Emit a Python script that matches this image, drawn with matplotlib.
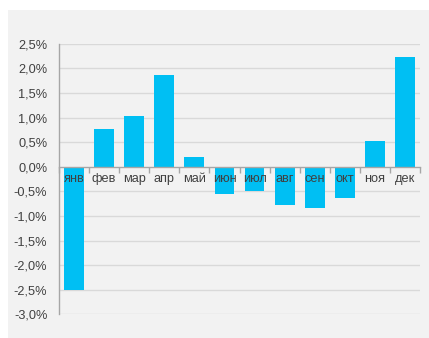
import matplotlib
matplotlib.use("Agg")
import matplotlib.pyplot as plt
from matplotlib.ticker import FuncFormatter, FixedLocator

months = ["янв", "фев", "мар", "апр", "май", "июн", "июл", "авг", "сен", "окт", "ноя", "дек"]
values = [-2.51, 0.77, 1.04, 1.87, 0.19, -0.55, -0.50, -0.77, -0.83, -0.64, 0.53, 2.23]
yticks = [-3.0, -2.5, -2.0, -1.5, -1.0, -0.5, 0.0, 0.5, 1.0, 1.5, 2.0, 2.5]

plt.rcParams['font.family'] = ['Liberation Sans', 'DejaVu Sans']
W, H = 429, 338
fig = plt.figure(figsize=(W / 100, H / 100), dpi=100)
fig.patch.set_facecolor("#F2F2F2")

ax = fig.add_axes([59 / W, 1 - 314.3 / H, (420 - 59) / W, (314.3 - 43.7) / H])
ax.set_facecolor("#F2F2F2")
ax.set_xlim(-0.5, len(months) - 0.5)
ax.set_ylim(-3.0, 2.5)
ax.set_axisbelow(False)

for yt in yticks:
    if yt != 0:
        ax.axhline(yt, color="#D9D9D9", linewidth=1, zorder=0.5)

x = list(range(len(months)))
ax.bar(x, values, width=0.66, color="#00BFF3", zorder=2)

ax.set_yticks(yticks)
ax.yaxis.set_major_formatter(FuncFormatter(lambda v, p: f"{v:.1f}%".replace(".", ",")))
ax.tick_params(axis="y", length=0, pad=8.4, labelsize=9.2, labelcolor="#404040")

for s in ["top", "right"]:
    ax.spines[s].set_visible(False)
ax.spines["left"].set_color("#A6A6A6")
ax.spines["left"].set_linewidth(1)
ax.spines["bottom"].set_position(("data", 0))
ax.spines["bottom"].set_color("#A6A6A6")
ax.spines["bottom"].set_linewidth(1)

ax.set_xticks(x)
ax.set_xticklabels(months)
ax.xaxis.set_minor_locator(FixedLocator([i - 0.5 for i in range(len(months) + 1)]))
ax.tick_params(axis="x", which="major", length=0, pad=4.5, labelsize=9.2,
               labelcolor="#404040")
ax.tick_params(axis="x", which="minor", direction="out", length=4, color="#A6A6A6",
               width=1)

# white margins at top and left, outside the grey panel
fig.add_artist(plt.Rectangle((0, 1 - 10 / H), 1, 10 / H, transform=fig.transFigure,
                             facecolor="white", edgecolor="none"))
fig.add_artist(plt.Rectangle((0, 0), 8 / W, 1, transform=fig.transFigure,
                             facecolor="white", edgecolor="none"))

fig.savefig("out.png", dpi=100, facecolor=fig.get_facecolor())
